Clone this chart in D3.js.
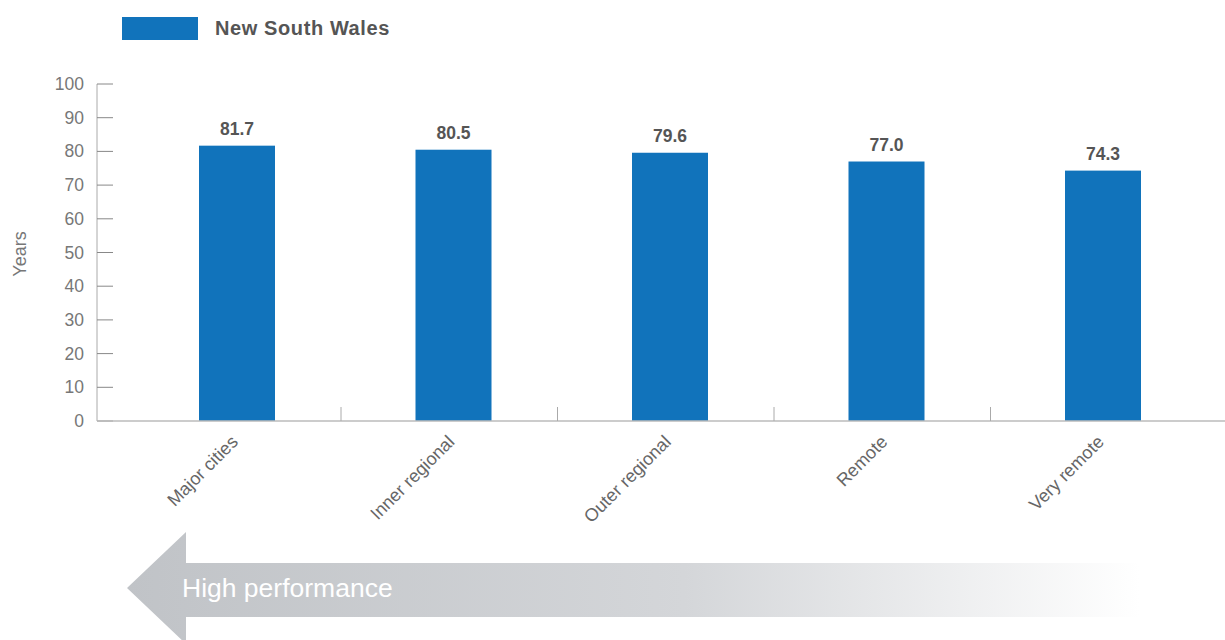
<!DOCTYPE html>
<html>
<head>
<meta charset="utf-8">
<script src="https://cdn.jsdelivr.net/npm/d3@7"></script>
<style>
  body { margin: 0; background: #fff; }
  svg { display: block; font-family: "Liberation Sans", Arial, sans-serif; }
</style>
</head>
<body>
<div id="chart"></div>
<script>
// Chart data
var categories = ["Major cities", "Inner regional", "Outer regional", "Remote", "Very remote"];
var values = [81.7, 80.5, 79.6, 77.0, 74.3];
var yTicks = [0, 10, 20, 30, 40, 50, 60, 70, 80, 90, 100];
var seriesName = "New South Wales";

var width = 1225, height = 640;
var barColor = "#1173bb";

var svg = d3.select("#chart").append("svg")
  .attr("width", width)
  .attr("height", height);

// Scales
var x = d3.scaleBand().domain(categories).range([124.5, 1207]).padding(0);
var y = d3.scaleLinear().domain([0, 100]).range([421, 84]);

// Gradient for the arrow
var defs = svg.append("defs");
var grad = defs.append("linearGradient")
  .attr("id", "arrowGrad")
  .attr("gradientUnits", "userSpaceOnUse")
  .attr("x1", 127).attr("x2", 1140).attr("y1", 0).attr("y2", 0);
grad.append("stop").attr("offset", "0%").attr("stop-color", "#c0c3c7");
grad.append("stop").attr("offset", "55%").attr("stop-color", "#d4d6d9");
grad.append("stop").attr("offset", "100%").attr("stop-color", "#ffffff");

// Legend
svg.append("rect")
  .attr("x", 122).attr("y", 17)
  .attr("width", 76).attr("height", 23)
  .attr("fill", barColor);
svg.append("text")
  .attr("x", 215).attr("y", 35)
  .attr("font-size", 20)
  .attr("font-weight", "bold")
  .attr("letter-spacing", 0.6)
  .attr("fill", "#555")
  .text(seriesName);

// Y axis line and ticks (ticks point inward)
svg.append("line")
  .attr("x1", 97).attr("x2", 97)
  .attr("y1", y(100)).attr("y2", y(0))
  .attr("stroke", "#aaa");
svg.selectAll(".ytick")
  .data(yTicks)
  .enter()
  .append("line")
  .attr("x1", 97).attr("x2", 113)
  .attr("y1", function (d) { return y(d); })
  .attr("y2", function (d) { return y(d); })
  .attr("stroke", "#888");
svg.selectAll(".ylabel")
  .data(yTicks)
  .enter()
  .append("text")
  .attr("x", 84)
  .attr("y", function (d) { return y(d) + 6; })
  .attr("text-anchor", "end")
  .attr("font-size", 17.5)
  .attr("fill", "#777")
  .text(function (d) { return d; });

// Y axis title
svg.append("text")
  .attr("transform", "translate(26,254) rotate(-90)")
  .attr("text-anchor", "middle")
  .attr("font-size", 18)
  .attr("fill", "#777")
  .text("Years");

// Bars
var barOffset = 74.5, barWidth = 76;
svg.selectAll(".bar")
  .data(values)
  .enter()
  .append("rect")
  .attr("x", function (d, i) { return x(categories[i]) + barOffset; })
  .attr("y", function (d) { return y(d); })
  .attr("width", barWidth)
  .attr("height", function (d) { return y(0) - y(d); })
  .attr("fill", barColor);

// Value labels
svg.selectAll(".val")
  .data(values)
  .enter()
  .append("text")
  .attr("x", function (d, i) { return x(categories[i]) + barOffset + barWidth / 2; })
  .attr("y", function (d) { return y(d) - 11; })
  .attr("text-anchor", "middle")
  .attr("font-size", 17.5)
  .attr("font-weight", "bold")
  .attr("fill", "#555")
  .text(function (d) { return d.toFixed(1); });

// X axis baseline
svg.append("line")
  .attr("x1", 97).attr("x2", width)
  .attr("y1", y(0)).attr("y2", y(0))
  .attr("stroke", "#bbb")
  .attr("stroke-width", 1.5);

// Category separators
svg.selectAll(".xsep")
  .data(categories.slice(1))
  .enter()
  .append("line")
  .attr("x1", function (d) { return x(d); })
  .attr("x2", function (d) { return x(d); })
  .attr("y1", y(0) - 14).attr("y2", y(0))
  .attr("stroke", "#aaa");

// Category labels, rotated
svg.selectAll(".xlabel")
  .data(categories)
  .enter()
  .append("text")
  .attr("transform", function (d) {
    var cx = x(d) + barOffset + barWidth / 2;
    return "translate(" + (cx + 2) + ",443) rotate(-45)";
  })
  .attr("text-anchor", "end")
  .attr("font-size", 18)
  .attr("fill", "#666")
  .text(function (d) { return d; });

// High performance arrow
var arrowPts = [[127, 588], [186, 532], [186, 563], [1140, 563], [1140, 617], [186, 617], [186, 644]];
svg.append("path")
  .attr("d", d3.line()(arrowPts) + "Z")
  .attr("fill", "url(#arrowGrad)");
svg.append("text")
  .attr("x", 182).attr("y", 597)
  .attr("font-size", 26.5)
  .attr("fill", "#fff")
  .text("High performance");
</script>
</body>
</html>
